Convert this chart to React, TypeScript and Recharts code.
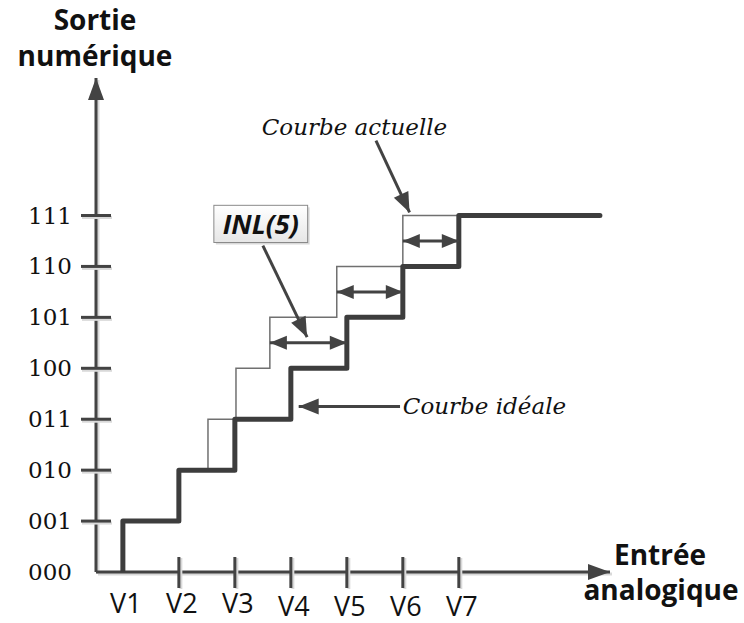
import { LineChart, Line, XAxis, YAxis, ReferenceLine, ReferenceArea, ReferenceDot } from 'recharts';

// Output codes on the vertical axis
const codeLevels = [0, 1, 2, 3, 4, 5, 6, 7];
const codeLabels = ['000', '001', '010', '011', '100', '101', '110', '111'];

// Analog input thresholds on the horizontal axis
const inputPositions = [1, 2, 3, 4, 5, 6, 7];
const inputLabels = ['V1', 'V2', 'V3', 'V4', 'V5', 'V6', 'V7'];

// Ideal transfer curve (thick): transition points
const idealX = [1, 1, 2, 3, 4, 5, 6, 7, 9.52];
const idealY = [0, 1, 2, 3, 4, 5, 6, 7, 7];

// Actual transfer curve (thin): transition points
const actualX = [1, 1, 2, 2.52, 3.02, 3.625, 4.82, 6, 7];
const actualY = [0, 1, 2, 3, 4, 5, 6, 7, 7];

// INL double arrows: actual transition -> ideal transition, at a given level
const inlFrom = [3.625, 4.82, 6];
const inlTo = [5, 6, 7];
const inlLevel = [4.5, 5.5, 6.5];

const idealData = idealX.map((x, i) => ({ x, y: idealY[i] }));
const actualData = actualX.map((x, i) => ({ x, y: actualY[i] }));

const INK = '#434343';
const SHADOW = '#d9d9d9';

const headPts = (tx: number, ty: number, fx: number, fy: number, len = 18, half = 7) => {
  const dx = tx - fx;
  const dy = ty - fy;
  const d = Math.hypot(dx, dy) || 1;
  const ux = dx / d;
  const uy = dy / d;
  const bx = tx - ux * len;
  const by = ty - uy * len;
  return `${tx},${ty} ${bx - uy * half},${by + ux * half} ${bx + uy * half},${by - ux * half}`;
};

const AxisArrow = (p: any) => (
  <g>
    <line x1={p.x1 + 2} y1={p.y1 + 2} x2={p.x2 + 2} y2={p.y2 + 2} stroke={SHADOW} strokeWidth={3} />
    <line x1={p.x1} y1={p.y1} x2={p.x2} y2={p.y2} stroke={INK} strokeWidth={3} />
    <polygon points={headPts(p.x2, p.y2, p.x1, p.y1, 22, 8)} fill={INK} />
  </g>
);

const DoubleArrow = (p: any) => (
  <g>
    <line x1={p.x1} y1={p.y1} x2={p.x2} y2={p.y2} stroke={INK} strokeWidth={3} />
    <polygon points={headPts(p.x2, p.y2, p.x1, p.y1, 17, 7)} fill={INK} />
    <polygon points={headPts(p.x1, p.y1, p.x2, p.y2, 17, 7)} fill={INK} />
  </g>
);

const Pointer = (p: any) => (
  <g>
    <line x1={p.x1} y1={p.y1} x2={p.x2} y2={p.y2} stroke={INK} strokeWidth={3} />
    <polygon points={headPts(p.x2, p.y2, p.x1, p.y1, 20, 8)} fill={INK} />
  </g>
);

const renderYTick = ({ x, y, payload }: any) => (
  <g key={`y${payload.value}`}>
    {payload.value > 0 && (
      <>
        <line x1={x - 14} x2={x + 16} y1={y + 2} y2={y + 2} stroke={SHADOW} strokeWidth={3} />
        <line x1={x - 15} x2={x + 15} y1={y} y2={y} stroke={INK} strokeWidth={3} />
      </>
    )}
    <text x={x - 24} y={y} textAnchor="end" dominantBaseline="central" fontFamily="DejaVu Serif" fontSize={23} fill="#111">
      {codeLabels[codeLevels.indexOf(payload.value)]}
    </text>
  </g>
);

const renderXTick = ({ x, y, payload }: any) => {
  const i = inputPositions.indexOf(payload.value);
  return (
    <g key={`x${payload.value}`}>
      {i > 0 && (
        <>
          <line x1={x + 2} x2={x + 2} y1={y - 14} y2={y + 17} stroke={SHADOW} strokeWidth={3} />
          <line x1={x} x2={x} y1={y - 15} y2={y + 16} stroke={INK} strokeWidth={3} />
        </>
      )}
      <text x={x + 3} y={y + (i >= 3 ? 44 : 41)} textAnchor="middle" fontFamily="Open Sans" fontSize={27} fill="#111">
        {inputLabels[i]}
      </text>
    </g>
  );
};

const InlBox = (p: any) => (
  <g>
    <defs>
      <linearGradient id="inlFill" x1="0" y1="0" x2="0" y2="1">
        <stop offset="0%" stopColor="#ffffff" />
        <stop offset="100%" stopColor="#e6e6e6" />
      </linearGradient>
    </defs>
    <rect x={p.x + 2} y={p.y + 2} width={p.width} height={p.height} fill={SHADOW} />
    <rect x={p.x} y={p.y} width={p.width} height={p.height} fill="url(#inlFill)" stroke="#8a8a8a" strokeWidth={1} />
    <text x={p.x + p.width / 2} y={p.y + p.height / 2} textAnchor="middle" dominantBaseline="central"
      fontFamily="Open Sans" fontWeight="bold" fontStyle="italic" fontSize={27} fill="#111">
      INL(5)
    </text>
  </g>
);

const note = (label: string) => (p: any) => (
  <text x={p.cx} y={p.cy} dominantBaseline="central" fontFamily="DejaVu Serif" fontStyle="italic" fontSize={23} fill="#111">
    {label}
  </text>
);

const titleStyle = { fontFamily: 'Open Sans', fontWeight: 'bold' as const, fontSize: 28, fill: '#111' };

export default function App() {
  return (
    <div style={{ position: 'absolute', left: 0, top: 0, width: 744, height: 623, background: '#fff' }}>
      <LineChart width={744} height={623} margin={{ top: 78, right: 134, bottom: 50, left: 95 }}>
        <XAxis
          type="number"
          dataKey="x"
          domain={[0.52, 9.7]}
          allowDataOverflow
          ticks={inputPositions}
          interval={0}
          height={1}
          tickSize={0}
          tickMargin={0}
          axisLine={false}
          tickLine={false}
          tick={renderXTick}
        />
        <YAxis
          type="number"
          dataKey="y"
          domain={[0, 9.7]}
          allowDataOverflow
          ticks={codeLevels}
          interval={0}
          width={1}
          tickSize={0}
          tickMargin={0}
          axisLine={false}
          tickLine={false}
          tick={renderYTick}
        />
        <ReferenceLine ifOverflow="visible" segment={[{ x: 0.52, y: 0 }, { x: 0.52, y: 9.7 }]} shape={AxisArrow} />
        <ReferenceLine ifOverflow="visible" segment={[{ x: 0.52, y: 0 }, { x: 9.7, y: 0 }]} shape={AxisArrow} />
        <Line data={actualData} dataKey="y" type="stepAfter" stroke="#707070" strokeWidth={1.5} dot={false} isAnimationActive={false} />
        <Line data={idealData} dataKey="y" type="stepAfter" stroke="#3d3d3d" strokeWidth={5} strokeLinecap="round" strokeLinejoin="round" dot={false} isAnimationActive={false} />
        {inlLevel.map((lv, i) => (
          <ReferenceLine key={i} ifOverflow="visible" segment={[{ x: inlFrom[i], y: lv }, { x: inlTo[i], y: lv }]} shape={DoubleArrow} />
        ))}
        <ReferenceLine ifOverflow="visible" segment={[{ x: 5.52, y: 8.47 }, { x: 6.12, y: 7.06 }]} shape={Pointer} />
        <ReferenceLine ifOverflow="visible" segment={[{ x: 3.5, y: 6.41 }, { x: 4.29, y: 4.61 }]} shape={Pointer} />
        <ReferenceLine ifOverflow="visible" segment={[{ x: 5.95, y: 3.25 }, { x: 4.14, y: 3.25 }]} shape={Pointer} />
        <ReferenceArea ifOverflow="visible" x1={2.625} x2={4.3} y1={6.47} y2={7.2} shape={InlBox} />
        <ReferenceDot ifOverflow="visible" x={3.48} y={8.73} r={0} shape={note('Courbe actuelle')} />
        <ReferenceDot ifOverflow="visible" x={6.0} y={3.25} r={0} shape={note('Courbe idéale')} />
      </LineChart>
      <svg width={744} height={623} style={{ position: 'absolute', left: 0, top: 0, pointerEvents: 'none' }}>
        <text x={95} y={30} textAnchor="middle" {...titleStyle}>Sortie</text>
        <text x={95} y={66} textAnchor="middle" {...titleStyle}>numérique</text>
        <text x={660} y={565} textAnchor="middle" {...titleStyle}>Entrée</text>
        <text x={661} y={600} textAnchor="middle" {...titleStyle}>analogique</text>
      </svg>
    </div>
  );
}
